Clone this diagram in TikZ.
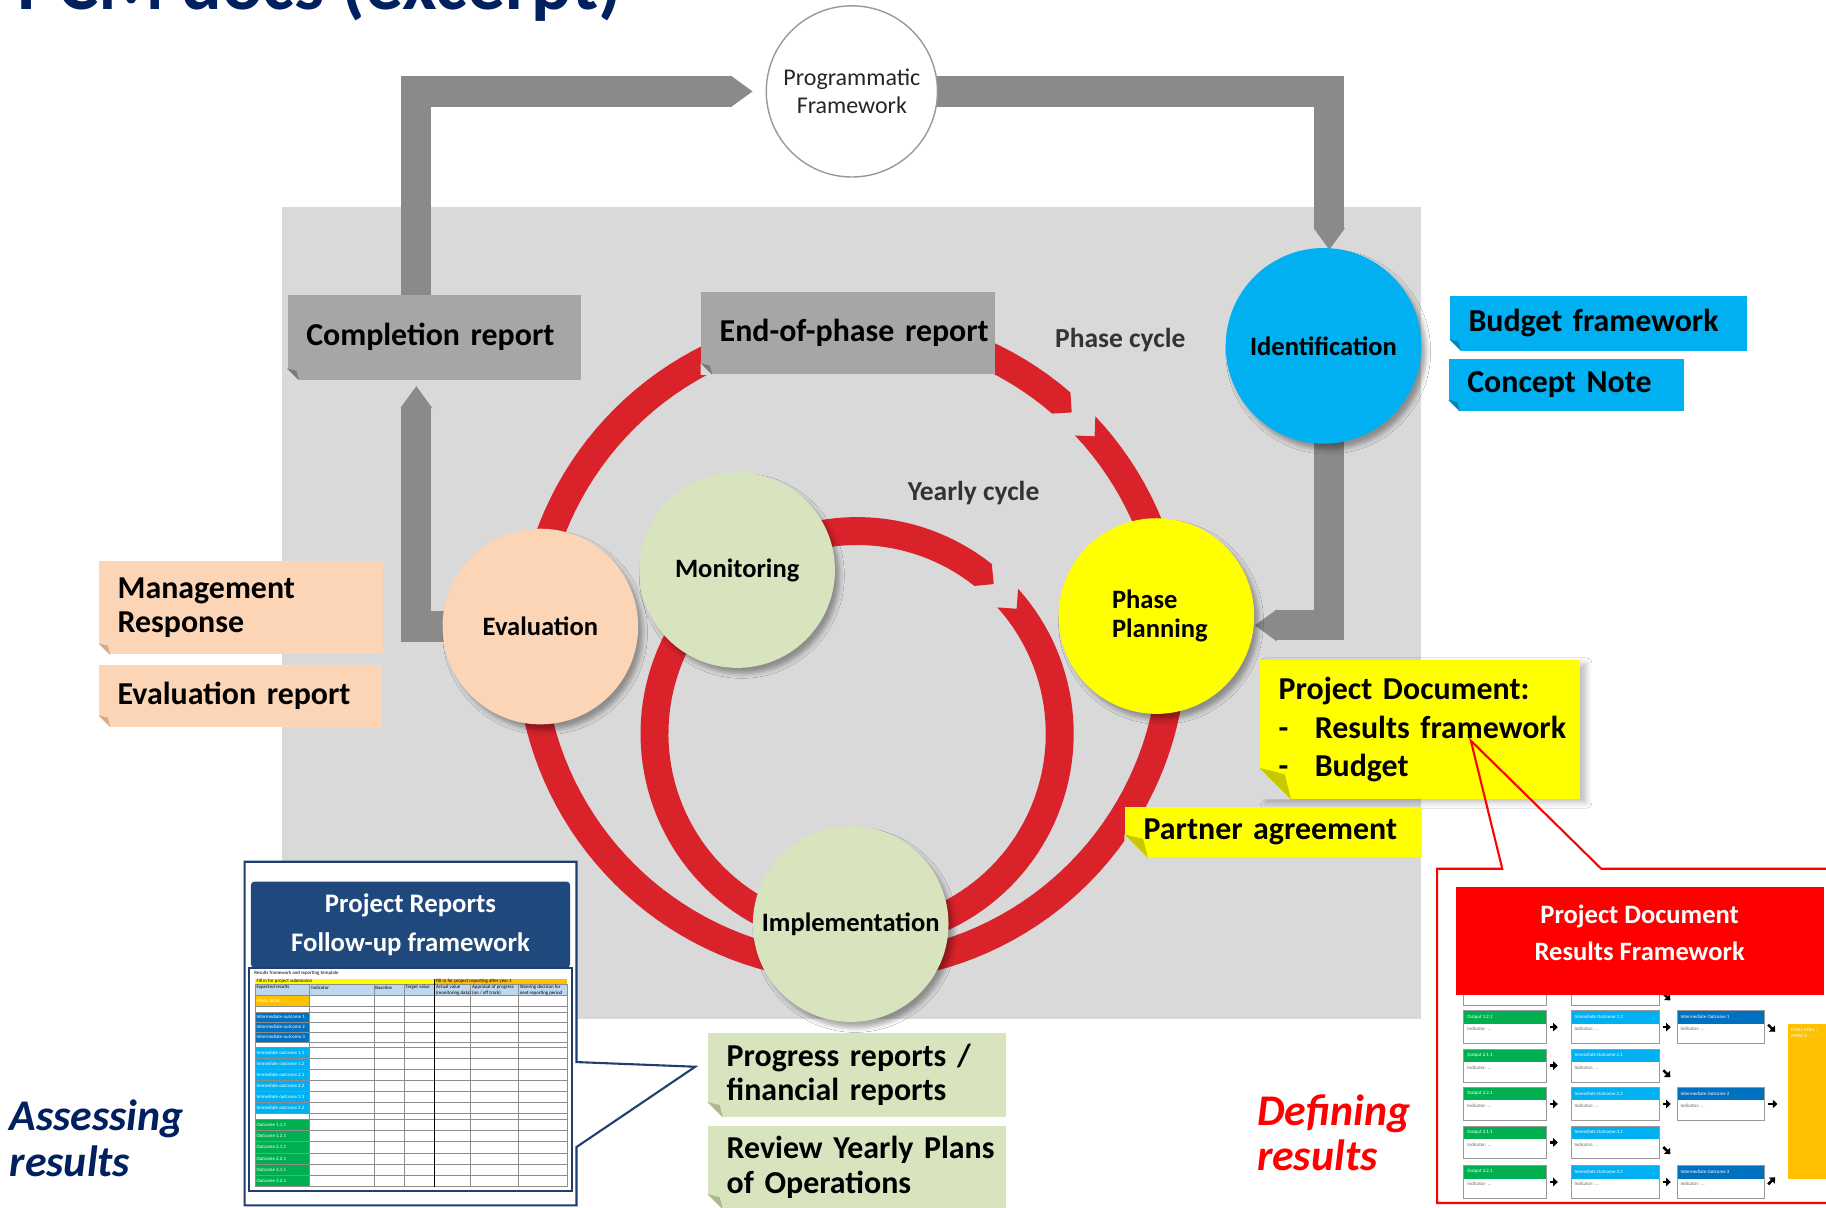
\documentclass[tikz,border=0pt]{standalone}
\usepackage{fontspec}
\setmainfont{Carlito}
\usetikzlibrary{arrows.meta,shadows.blur}
\pgfdeclarelayer{background}
\pgfsetlayers{background,main}

\definecolor{panelgray}{HTML}{D9D9D9}
\definecolor{pipegray}{HTML}{8A8A8A}
\definecolor{boxgray}{HTML}{A6A6A6}
\definecolor{boxgrayfold}{HTML}{7A7A7A}
\definecolor{ringred}{HTML}{D9222A}
\definecolor{identblue}{HTML}{00B0F0}
\definecolor{identfold}{HTML}{0086B8}
\definecolor{planyellow}{HTML}{FFFF00}
\definecolor{planfold}{HTML}{C8C800}
\definecolor{evalpeach}{HTML}{FBD5B5}
\definecolor{evalfold}{HTML}{D2AC8C}
\definecolor{monigreen}{HTML}{D7E4BD}
\definecolor{monifold}{HTML}{AAB98E}
\definecolor{navyframe}{HTML}{1F3F73}
\definecolor{navyhead}{HTML}{1F497D}
\definecolor{titleblue}{HTML}{002060}
\definecolor{goalorange}{HTML}{FFC000}
\definecolor{ioblue}{HTML}{0070C0}
\definecolor{outgreen}{HTML}{00B050}
\definecolor{colhead}{HTML}{BDD7EE}
\definecolor{headred}{HTML}{FF0000}

% cut corner and curl at the lower left of a label box
\newcommand\boxfold[4]{%
  \fill[#2] (#1.south west) -- ++(0,#4) -- ++(#4,-#4) -- cycle;
  \fill[#3] ([yshift=#4]#1.south west) -- ++(.8*#4,-.2*#4) -- ([xshift=#4]#1.south west) -- cycle;
}

\tikzset{
  stage/.style={circle, minimum size=84pt, inner sep=0pt, align=center,
    font=\bfseries\fontsize{11.4}{12.5}\selectfont,
    blur shadow={shadow xshift=2pt, shadow yshift=-2.5pt, shadow blur radius=2pt, shadow opacity=35}},
  lbl/.style={inner sep=0pt, align=left, execute at begin node={\leftskip=8pt\relax},
    font=\bfseries\fontsize{13.7}{14.5}\selectfont},
  pipe/.style={draw=pipegray, line width=13pt, -{Triangle[length=9.5pt,width=13pt]}},
  cyclelbl/.style={font=\bfseries\fontsize{11.8}{13}\selectfont, text=black!80},
  sidelbl/.style={font=\bfseries\itshape\fontsize{18.8}{19.5}\selectfont, align=left, anchor=west, inner sep=0pt},
  tinytext/.style={font=\fontsize{2.1}{2.5}\selectfont, inner sep=0pt, anchor=west},
  gridline/.style={draw=black!45, line width=.2pt},
  minarrow/.style={line width=1.1pt, -{Triangle[length=2pt,width=3.6pt]}},
  minibox/.style={draw=black!40, line width=.3pt, fill=white, minimum height=14pt, inner sep=0pt,
    path picture={\fill[#1] (path picture bounding box.north west) rectangle ([yshift=-5.5pt]path picture bounding box.north east);}},
}

\begin{document}
\begin{tikzpicture}[x=0.5pt,y=-0.5pt]
  \useasboundingbox (0,0) rectangle (1568,1037);

  \node[anchor=base west, inner sep=0pt, text=titleblue,
    font=\bfseries\fontsize{32.5}{34}\selectfont] (title) at (15,8) {PCM docs (excerpt)};

  % stages of the cycle
  \node[stage, fill=identblue] (ident) at (1136.5,297) {Identification};
  \node[stage, fill=planyellow, align=left] (plan) at (993,529) {\hspace*{3pt}Phase\\\hspace*{3pt}Planning};
  \node[stage, fill=evalpeach] (eval) at (464,538) {Evaluation};
  \node[stage, fill=monigreen] (moni) at (633,489.5) {Monitoring};
  \node[stage, fill=monigreen] (impl) at (730.5,793.5) {Implementation};
  \node[circle, draw=black!40, line width=.6pt, fill=white, minimum size=73.5pt,
    inner sep=0pt, align=center, text=black!85,
    font=\fontsize{10.3}{12}\selectfont] (pf) at (731.5,78.5) {Programmatic\\Framework};

  % documents
  \node[lbl, fill=boxgray, text width=126pt, minimum height=36.5pt] (comp) at (373,289.5) {Completion report};
  \node[lbl, fill=boxgray, text width=126pt, minimum height=35.5pt] (eop) at (728,286) {End-of-phase report};
  \node[lbl, fill=identblue, text width=127.5pt, minimum height=23.5pt] (budget) at (1372.5,277.5) {Budget framework};
  \node[lbl, fill=identblue, text width=101pt, minimum height=22.5pt] (concept) at (1345,330.5) {Concept Note};
  \node[lbl, fill=evalpeach, text width=122pt, minimum height=40pt] (mgmt) at (207,522) {Management\\Response};
  \node[lbl, fill=evalpeach, text width=121.5pt, minimum height=26.5pt] (evalrep) at (206.5,597.5) {Evaluation report};
  \node[lbl, fill=planyellow, text width=137.5pt, minimum height=59.5pt,
    font=\bfseries\fontsize{13.7}{16.5}\selectfont,
    blur shadow={shadow xshift=2.5pt, shadow yshift=-1.5pt, shadow blur radius=2.5pt, shadow opacity=25}] (projdoc) at (1219.5,626.5)
    {Project Document:\\\mbox{\makebox[15.5pt][l]{-}Results framework}\\\mbox{\makebox[15.5pt][l]{-}Budget}};
  \node[lbl, fill=planyellow, text width=127.5pt, minimum height=21.5pt] (partner) at (1093.5,714.5) {Partner agreement};
  \node[lbl, fill=monigreen, text width=128pt, minimum height=36pt] (progress) at (736,923) {Progress reports /\\financial reports};
  \node[lbl, fill=monigreen, text width=128pt, minimum height=35.5pt,
    font=\bfseries\fontsize{13.7}{15}\selectfont] (review) at (736,1002.5) {Review Yearly Plans\\of Operations};

  \boxfold{comp}{panelgray}{boxgrayfold}{5pt}
  \boxfold{eop}{panelgray}{boxgrayfold}{5pt}
  \boxfold{budget}{white}{identfold}{5pt}
  \boxfold{concept}{white}{identfold}{5pt}
  \boxfold{mgmt}{white}{evalfold}{5pt}
  \boxfold{evalrep}{white}{evalfold}{5pt}
  \boxfold{projdoc}{panelgray}{planfold}{13.5pt}
  \boxfold{partner}{panelgray}{planfold}{10pt}
  \boxfold{progress}{white}{monifold}{6.5pt}
  \boxfold{review}{white}{monifold}{6.5pt}

  \node[cyclelbl] (phasecyc) at (962,292) {Phase cycle};
  \node[cyclelbl] (yearcyc) at (836,423) {Yearly cycle};

  \node[sidelbl, text=titleblue] (assess) at (8,977.5) {Assessing\\results};
  \node[sidelbl, text=headred] (define) at (1079,972.5) {Defining\\results};

  % follow-up framework sheet
  \draw[navyframe, line width=.9pt, fill=white] (210,740) -- (495,740) -- (495,912) -- (597,916)
    -- (495,985) -- (495,1035) -- (210,1035) -- cycle;
  \node[fill=navyhead, rounded corners=1.5pt, minimum width=137pt, minimum height=37pt, inner sep=0pt,
    align=center, text=white, font=\bfseries\fontsize{11.5}{16.5}\selectfont] (rephead) at (352.5,794)
    {Project Reports\\Follow-up framework};
  \node[draw=navyframe, line width=.8pt, fill=white, minimum width=138.5pt, minimum height=96pt,
    inner sep=0pt] (reptab) at (352.5,927) {};
  \node[tinytext] (reptitle) at (218,836) {Results framework and reporting template};
  \fill[planyellow] (219,841) rectangle (373,845);
  \fill[goalorange] (373,841) rectangle (487,845);
  \node[tinytext] (subm) at (220,843) {Fill in for project submission};
  \node[tinytext] (yearone) at (374,843) {Fill in for project reporting after year 1};
  \fill[colhead] (219,845) rectangle (487,855);
  \fill[goalorange] (219,855) rectangle (265.5,864);
  \fill[ioblue] (219,869) rectangle (265.5,895);
  \fill[identblue] (219,899) rectangle (265.5,956);
  \fill[outgreen] (219,961) rectangle (265.5,1019);
  \foreach \y in {845,855,864,869,877.67,886.33,895,899,908.5,918,927.5,937,946.5,956,961,970.67,980.33,990,999.67,1009.33,1019}
    \draw[gridline] (219,\y) -- (487,\y);
  \foreach \x in {219,265.5,321,347,404,445,487}
    \draw[gridline] (\x,845) -- (\x,1019);
  \draw[line width=.6pt] (373,841) -- (373,1019);
  \node[tinytext] (colres) at (220,848) {Expected results};
  \node[tinytext] (colind) at (267,848) {Indicator};
  \node[tinytext] (colbase) at (322,848) {Baseline};
  \node[tinytext] (coltarget) at (348,848) {Target value};
  \node[tinytext, align=left] (colactual) at (374,850) {Actual value\\(monitoring data)};
  \node[tinytext, align=left] (colappr) at (405,850) {Appraisal of progress\\(on / off track)};
  \node[tinytext, align=left] (colsteer) at (446,850) {Steering decision for\\next reporting period};
  \node[tinytext, text=white] (goalcell) at (220,859.5) {FINAL GOAL ...};
  \foreach \n [count=\i] in {1,2,3}
    \node[tinytext, text=white] (inter\i) at (220,{869+8.67*\i-4.33}) {Intermediate outcome \n};
  \foreach \n [count=\i] in {1.1,1.2,2.1,2.2,3.1,3.2}
    \node[tinytext, text=white] (imm\i) at (220,{899+9.5*\i-4.75}) {Immediate outcome \n};
  \foreach \n [count=\i] in {1.1.1,1.2.1,2.1.1,2.2.1,3.1.1,3.2.1}
    \node[tinytext, text=white] (outc\i) at (220,{961+9.67*\i-4.83}) {Outcome \n};

  % results framework sheet
  \foreach \r/\y/\o/\m in {0/835/1.1.1/1.1,1/868/1.2.1/1.2,2/901/2.1.1/2.1,3/934/2.2.1/2.2,4/967/3.1.1/3.1,5/1001/3.2.1/3.2}{
    \node[minibox=outgreen, minimum width=35.5pt] (outb\r) at (1292.5,\y+14) {};
    \node[minibox=identblue, minimum width=38pt] (immb\r) at (1387,\y+14) {};
    \node[tinytext, text=white] (outh\r) at ([xshift=1.5pt,yshift=-2.75pt]outb\r.north west) {Output \o};
    \node[tinytext, text=black!60] (outi\r) at ([xshift=1.5pt,yshift=-8pt]outb\r.north west) {Indicator: ...};
    \node[tinytext, text=white] (immh\r) at ([xshift=1.5pt,yshift=-2.75pt]immb\r.north west) {Immediate Outcome \m};
    \node[tinytext, text=black!60] (immi\r) at ([xshift=1.5pt,yshift=-8pt]immb\r.north west) {Indicator: ...};
    \draw[minarrow] ([xshift=1.5pt]outb\r.east) -- ([xshift=-5.5pt]immb\r.west);
  }
  \foreach \y/\n/\r in {868/1/1,934/2/3,1001/3/5}{
    \node[minibox=ioblue, minimum width=37.5pt] (intb\n) at (1477.5,\y+14) {};
    \node[tinytext, text=white] (inth\n) at ([xshift=1.5pt,yshift=-2.75pt]intb\n.north west) {Intermediate Outcome \n};
    \node[tinytext, text=black!60] (inti\n) at ([xshift=1.5pt,yshift=-8pt]intb\n.north west) {Indicator: ...};
    \draw[minarrow] ([xshift=1.5pt]immb\r.east) -- ([xshift=-2.5pt]intb\n.west);
  }
  \foreach \r in {0,2,4}
    \draw[minarrow] ([xshift=1.5pt,yshift=-2pt]immb\r.east) -- ++(3pt,-3pt);
  \node[fill=goalorange, minimum width=20pt, minimum height=66.5pt, inner sep=0pt] (goal) at (1555,945.5) {};
  \node[tinytext, text=white, align=left] (goaltext) at ([xshift=1.5pt,yshift=-4pt]goal.north west) {FINAL GOAL /\\IMPACT: ...};
  \draw[minarrow] ([xshift=1.5pt,yshift=1pt]intb1.east) -- ++(3pt,-3pt);
  \draw[minarrow] ([xshift=1.5pt]intb2.east) -- ++(4pt,0);
  \draw[minarrow] ([xshift=1.5pt,yshift=-1pt]intb3.east) -- ++(3pt,3pt);
  \node[fill=headred, minimum width=158pt, minimum height=46pt, inner sep=0pt] (rfhead) at (1408,808) {};
  \node[text=white, align=center, font=\bfseries\fontsize{11.4}{16}\selectfont] (rfheadtext) at (1408,801)
    {Project Document\\Results Framework};
  \draw[headred, line width=.9pt] (1600,746) -- (1375,746) -- (1263,636) -- (1290,746) -- (1234,746)
    -- (1234,1033) -- (1600,1033);

  \begin{pgfonlayer}{background}
    \fill[white] (0,0) rectangle (1568,1037);
    \fill[panelgray] (242,178) rectangle (1220,875);
    % block arrows
    \draw[pipe] ([xshift=-7.75pt,yshift=-3pt]comp.north) |- ([xshift=-5.5pt]pf.west);
    \draw[pipe] ([xshift=-3pt]pf.east) -| ([xshift=2.5pt,yshift=-1pt]ident.north);
    \draw[pipe] ([xshift=2.5pt,yshift=3pt]ident.south) |- ([yshift=-4pt]plan.east);
    \draw[pipe] ([xshift=5pt]eval.west) -| ([xshift=-7.75pt,yshift=-2.5pt]comp.south);
    % phase cycle
    \fill[ringred] plot[domain=-43.3:310.8, samples=150] ({731+288*cos(\x)},{555+288*sin(\x)})
      -- ({731+276*cos(313.3)},{555+276*sin(313.3)})
      -- plot[domain=310.8:-43.3, samples=150] ({731+264*cos(\x)},{555+264*sin(\x)})
      -- ({731+276*cos(-40.8)},{555+276*sin(-40.8)}) -- cycle;
    % yearly cycle
    \fill[ringred] plot[domain=-42:308.45, samples=150] ({736+186*cos(\x)},{630+186*sin(\x)})
      -- ({736+174*cos(312.4)},{630+174*sin(312.4)})
      -- plot[domain=308.45:-42, samples=150] ({736+162*cos(\x)},{630+162*sin(\x)})
      -- ({736+174*cos(-38.05)},{630+174*sin(-38.05)}) -- cycle;
  \end{pgfonlayer}
\end{tikzpicture}
\end{document}
